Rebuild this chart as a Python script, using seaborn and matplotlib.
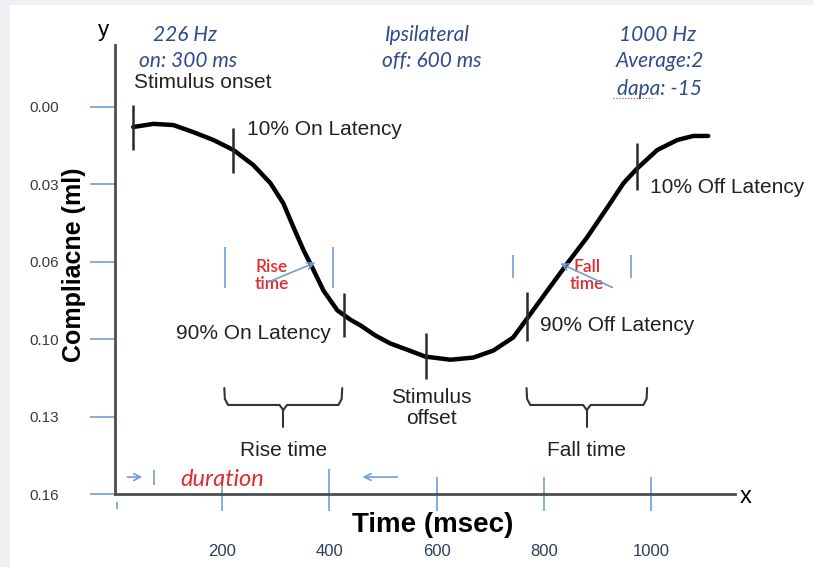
import numpy as np
import pandas as pd
import seaborn as sns
import matplotlib.pyplot as plt
from matplotlib.patches import Rectangle

# reflex response curve (time in ms, compliance in ml)
time_ms = [34, 72, 109, 146, 184, 221, 258, 290, 314, 333, 352, 368, 389, 415, 439, 458, 486, 514,
           547, 579, 626, 669, 706, 743, 769, 803, 844, 881, 919, 949, 975, 1012, 1049, 1079, 1107]
compliance = [0.0083, 0.0070, 0.0075, 0.0104, 0.0137, 0.0178, 0.0240, 0.0315, 0.0398, 0.0497, 0.0593,
              0.0663, 0.0759, 0.0841, 0.0879, 0.0903, 0.0945, 0.0978, 0.1005, 0.1032, 0.1045, 0.1036,
              0.1007, 0.0953, 0.0875, 0.0771, 0.0647, 0.0539, 0.0415, 0.0315, 0.0253, 0.0178, 0.0137,
              0.0120, 0.0120]

# event markers: onset, 10% on, 90% on, offset, 90% off, 10% off
event_ms = [33, 221, 428, 581, 769, 975]
event_top = [-0.0008, 0.0087, 0.0771, 0.0933, 0.0767, 0.0149]
event_bottom = [0.0178, 0.0274, 0.0953, 0.1124, 0.0966, 0.0344]

# blue rise / fall time windows
window_ms = [206, 407, 743, 962]
window_top = [0.0580, 0.0580, 0.0613, 0.0613]
window_bottom = [0.0750, 0.0750, 0.0709, 0.0709]

x_ticks = [200, 400, 600, 800, 1000]
y_tick_labels = ["0.00", "0.03", "0.06", "0.10", "0.13", "0.16"]

df = pd.DataFrame({"time": time_ms, "compliance": compliance})

sns.set_theme(style="white")
plt.rcParams["font.family"] = ["Liberation Sans", "DejaVu Sans"]

blue = "#6e9fd6"
navy = "#2e4b8c"
red = "#e02b30"
dark = "#2b2b2b"

fig = plt.figure(figsize=(8.14, 5.67), dpi=100)
fig.patch.set_facecolor("#eef0f4")
fig.add_artist(Rectangle((10 / 814, 0), 1, 562 / 567, transform=fig.transFigure,
                         facecolor="white", edgecolor="none", zorder=-10))
ax = fig.add_axes([115 / 814, 73 / 567, 620 / 814, 449 / 567])
ax.set_facecolor("none")

sns.lineplot(data=df, x="time", y="compliance", color="black", lw=3.2, sort=False, ax=ax,
             solid_joinstyle="round", solid_capstyle="round")

ax.vlines(event_ms, event_top, event_bottom, color=dark, lw=1.8)
ax.vlines(window_ms, window_top, window_bottom, color=blue, lw=1.2)

ax.set_xlim(0, 1157)
ax.set_ylim(0.16, -0.0256)
ax.set_xticks(x_ticks)
ax.set_xticklabels([str(v) for v in x_ticks])
ax.set_yticks(np.linspace(0, 0.16, len(y_tick_labels)))
ax.set_yticklabels(y_tick_labels)
ax.tick_params(axis="x", bottom=True, direction="inout", length=24, width=1.2, color=blue,
               pad=24, labelsize=12, labelcolor="#2c3e5c")
ax.tick_params(axis="y", left=True, direction="out", length=18, width=1.2, color=blue,
               pad=22, labelsize=11, labelcolor="#3a3a3a")
ax.set_xlabel("")
ax.set_ylabel("")
for side in ["top", "right"]:
    ax.spines[side].set_visible(False)
for side in ["left", "bottom"]:
    ax.spines[side].set_color("#4d4d4d")
    ax.spines[side].set_linewidth(2)

ax.text(-0.066, 0.51, "Compliacne (ml)", transform=ax.transAxes, rotation=90,
        ha="center", va="center", fontsize=18, fontweight="bold", color="black")
ax.text(592, 0.1728, "Time (msec)", ha="center", va="center", fontsize=20,
        fontweight="bold", color="black", clip_on=False)
ax.text(-21, -0.0318, "y", ha="center", va="center", fontsize=16, color="black", clip_on=False)
ax.text(1176, 0.1612, "x", ha="center", va="center", fontsize=17, color="black", clip_on=False)

# black annotation labels
lab = dict(fontsize=15, color="#222222", va="center")
ax.text(35, -0.0102, "Stimulus onset", ha="left", **lab)
ax.text(247, 0.0095, "10% On Latency", ha="left", **lab)
ax.text(999, 0.0331, "10% Off Latency", ha="left", clip_on=False, **lab)
ax.text(402, 0.0938, "90% On Latency", ha="right", **lab)
ax.text(794, 0.0905, "90% Off Latency", ha="left", **lab)
ax.text(590, 0.1244, "Stimulus\noffset", ha="center", linespacing=1.15, **lab)
ax.text(314, 0.1422, "Rise time", ha="center", **lab)
ax.text(880, 0.1422, "Fall time", ha="center", **lab)

# braces under rise / fall time
def brace(left, right):
    c = (left + right) / 2
    top, mid, tip, bottom = 0.1162, 0.1232, 0.1253, 0.1323
    ax.plot([left, left + 1, left + 7, c - 7, c], [top, mid - 0.0025, mid, mid, tip],
            color="#333333", lw=1.5)
    ax.plot([right, right - 1, right - 7, c + 7, c], [top, mid - 0.0025, mid, mid, tip],
            color="#333333", lw=1.5)
    ax.plot([c, c], [tip, bottom], color="#333333", lw=1.5)

brace(204, 424)
brace(768, 993)

# red rise / fall labels with blue arrows
red_lab = dict(ha="center", va="center", fontsize=12.5, color=red, linespacing=1.05,
               family=["Lato", "DejaVu Sans"], fontweight="semibold")
ax.text(293, 0.0696, "Rise\ntime", **red_lab)
ax.text(881, 0.0696, "Fall\ntime", **red_lab)
arr = dict(arrowstyle="->", color=blue, lw=1.2, shrinkA=0, shrinkB=0)
ax.annotate("", xy=(374, 0.0643), xytext=(285, 0.0725), arrowprops=arr)
ax.annotate("", xy=(831, 0.0647), xytext=(928, 0.0746), arrowprops=arr)

# header (stimulus settings)
hdr = dict(fontsize=15, color=navy, style="italic", family=["Lato", "DejaVu Sans"],
           ha="center", va="center", clip_on=False)
ax.text(131, -0.0298, "226 Hz", **hdr)
ax.text(137, -0.0188, "on: 300 ms", **hdr)
ax.text(583, -0.0298, "Ipsilateral", **hdr)
ax.text(592, -0.0188, "off: 600 ms", **hdr)
ax.text(1012, -0.0298, "1000 Hz", **hdr)
ax.text(1016, -0.0188, "Average:2", **hdr)
ax.text(1016, -0.0074, "dapa: -15", **hdr)
ax.plot([930, 1002], [-0.0035, -0.0035], color=red, lw=0.8, ls=":")

# duration marks along the time axis
ax.text(122, 0.1542, "duration", ha="left", va="center", fontsize=17, color=red,
        style="italic", family=["Lato", "DejaVu Sans"])
ax.annotate("", xy=(51, 0.1530), xytext=(23, 0.1530), arrowprops=arr)
ax.annotate("", xy=(462, 0.1530), xytext=(527, 0.1530), arrowprops=arr)
ax.vlines([72], [0.1501], [0.1563], color=blue, lw=1.2)
ax.vlines([400], [0.1497], [0.1534], color=blue, lw=1.2)
ax.vlines([3], [0.1633], [0.1662], color=blue, lw=1.2, clip_on=False)

fig.savefig("out.png", dpi=100, facecolor=fig.get_facecolor())
